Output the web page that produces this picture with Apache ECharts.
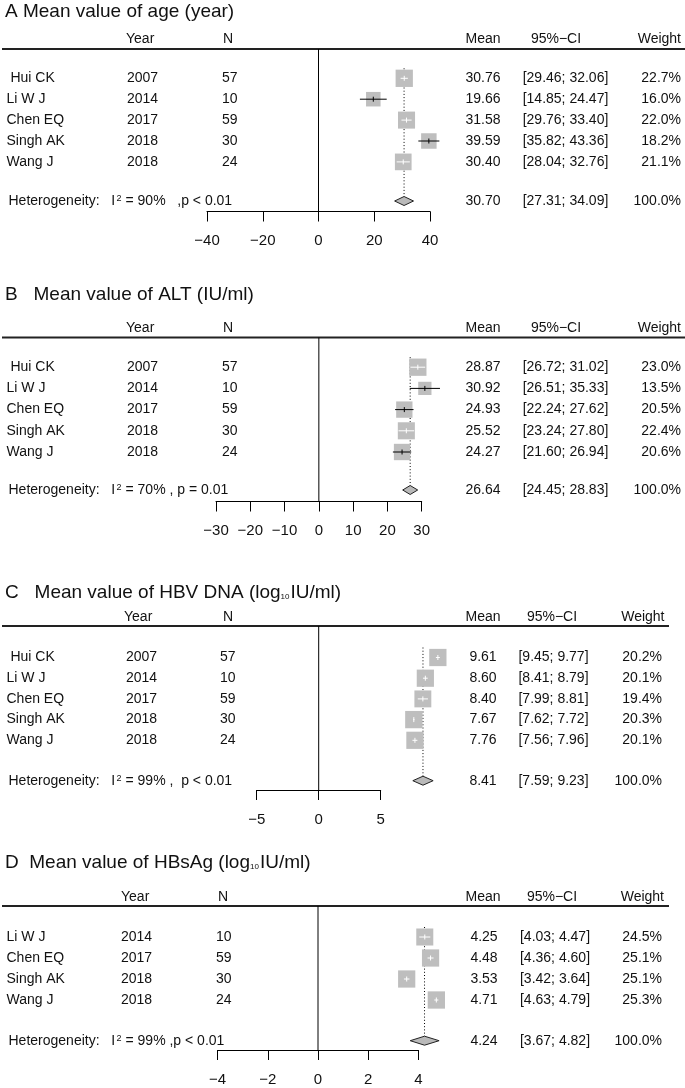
<!DOCTYPE html>
<html><head><meta charset="utf-8">
<script src="https://cdn.jsdelivr.net/npm/echarts@6/dist/echarts.min.js"></script>
<style>html,body{margin:0;padding:0;background:#fff}#c{width:685px;height:1088px}</style>
</head><body><div id="c"></div>
<script>
// ---------------- DATA ----------------
const headerLabels = ['Year', 'N', 'Mean', '95%\u2212CI', 'Weight'];

const titleA = 'A Mean value of age (year)';
const studiesA = [' Hui CK', 'Li W J', 'Chen EQ', 'Singh AK', 'Wang J'];
const yearsA = ['2007', '2014', '2017', '2018', '2018'];
const nA = [57, 10, 59, 30, 24];
const meanA = [30.76, 19.66, 31.58, 39.59, 30.40];
const lowerA = [29.46, 14.85, 29.76, 35.82, 28.04];
const upperA = [32.06, 24.47, 33.40, 43.36, 32.76];
const weightA = [22.7, 16.0, 22.0, 18.2, 21.1];
const pooledA = [30.70, 27.31, 34.09];
const hetA = 'Heterogeneity:   I{sup|2} = 90%   ,p < 0.01';
const ticksA = [-40, -20, 0, 20, 40];

const titleB = 'B   Mean value of ALT (IU/ml)';
const studiesB = [' Hui CK', 'Li W J', 'Chen EQ', 'Singh AK', 'Wang J'];
const yearsB = ['2007', '2014', '2017', '2018', '2018'];
const nB = [57, 10, 59, 30, 24];
const meanB = [28.87, 30.92, 24.93, 25.52, 24.27];
const lowerB = [26.72, 26.51, 22.24, 23.24, 21.60];
const upperB = [31.02, 35.33, 27.62, 27.80, 26.94];
const weightB = [23.0, 13.5, 20.5, 22.4, 20.6];
const pooledB = [26.64, 24.45, 28.83];
const hetB = 'Heterogeneity:   I{sup|2} = 70% , p = 0.01';
const ticksB = [-30, -20, -10, 0, 10, 20, 30];

const titleC = 'C   Mean value of HBV DNA (log{sub|10}IU/ml)';
const studiesC = [' Hui CK', 'Li W J', 'Chen EQ', 'Singh AK', 'Wang J'];
const yearsC = ['2007', '2014', '2017', '2018', '2018'];
const nC = [57, 10, 59, 30, 24];
const meanC = [9.61, 8.60, 8.40, 7.67, 7.76];
const lowerC = [9.45, 8.41, 7.99, 7.62, 7.56];
const upperC = [9.77, 8.79, 8.81, 7.72, 7.96];
const weightC = [20.2, 20.1, 19.4, 20.3, 20.1];
const pooledC = [8.41, 7.59, 9.23];
const hetC = 'Heterogeneity:   I{sup|2} = 99% ,  p < 0.01';
const ticksC = [-5, 0, 5];

const titleD = 'D  Mean value of HBsAg (log{sub|10}IU/ml)';
const studiesD = ['Li W J', 'Chen EQ', 'Singh AK', 'Wang J'];
const yearsD = ['2014', '2017', '2018', '2018'];
const nD = [10, 59, 30, 24];
const meanD = [4.25, 4.48, 3.53, 4.71];
const lowerD = [4.03, 4.36, 3.42, 4.63];
const upperD = [4.47, 4.60, 3.64, 4.79];
const weightD = [24.5, 25.1, 25.1, 25.3];
const pooledD = [4.24, 3.67, 4.82];
const hetD = 'Heterogeneity:   I{sup|2} = 99% ,p < 0.01';
const ticksD = [-4, -2, 0, 2, 4];

const totalWeight = '100.0%';

// ---------------- LAYOUT ----------------
const FAM = "'Liberation Sans', Arial, sans-serif";
const TFONT = '14px ' + FAM;
const SQ = 17.3;

const LAYOUT = [
  {titleY: 12, headY: 39, lineY: 49, lineX2: 685, y0: 78.3, dy: 20.9, hetY: 201, axisY: 211.5, axL: 207, axR: 430,
   c: {name: 6.5, year: 127, n: 222, mean: 483, ci: 565.5, w: 681}, h: {year: 126, n: 223, mean: 483, ci: 556, w: 681}},
  {titleY: 295, headY: 328, lineY: 337.5, lineX2: 685, y0: 367.2, dy: 21.2, hetY: 490, axisY: 501.5, axL: 216, axR: 421.7,
   c: {name: 6.5, year: 127, n: 222, mean: 483, ci: 565.5, w: 681}, h: {year: 126, n: 223, mean: 483, ci: 556, w: 681}},
  {titleY: 593, headY: 617, lineY: 626, lineX2: 669, y0: 657.5, dy: 20.7, hetY: 780.7, axisY: 790, axL: 256.7, axR: 380.7,
   c: {name: 6.5, year: 126, n: 220, mean: 483, ci: 553.5, w: 662}, h: {year: 124, n: 223, mean: 483, ci: 552, w: 664.5}},
  {titleY: 863, headY: 897, lineY: 906, lineX2: 669, y0: 937, dy: 21, hetY: 1040.7, axisY: 1050, axL: 217.5, axR: 418.5,
   c: {name: 6.5, year: 121, n: 216, mean: 484, ci: 555, w: 662}, h: {year: 121, n: 218, mean: 483, ci: 552, w: 664}}
];

const PANELS = [
  {title: titleA, studies: studiesA, years: yearsA, n: nA, mean: meanA, lower: lowerA, upper: upperA, weight: weightA, pooled: pooledA, het: hetA, ticks: ticksA},
  {title: titleB, studies: studiesB, years: yearsB, n: nB, mean: meanB, lower: lowerB, upper: upperB, weight: weightB, pooled: pooledB, het: hetB, ticks: ticksB},
  {title: titleC, studies: studiesC, years: yearsC, n: nC, mean: meanC, lower: lowerC, upper: upperC, weight: weightC, pooled: pooledC, het: hetC, ticks: ticksC},
  {title: titleD, studies: studiesD, years: yearsD, n: nD, mean: meanD, lower: lowerD, upper: upperD, weight: weightD, pooled: pooledD, het: hetD, ticks: ticksD}
];

const ciStr = (a, b) => '[' + a.toFixed(2) + '; ' + b.toFixed(2) + ']';

function studyItem(P) {
  const maxW = Math.max.apply(null, P.weight);
  return function (params, api) {
    const m = api.value(0), r = api.value(1), lo = api.value(2), hi = api.value(3), w = api.value(4);
    const c = api.coord([m, r]), a = api.coord([lo, r]), b = api.coord([hi, r]);
    const s = SQ * Math.sqrt(w / maxW);
    const col = (b[0] - a[0]) <= s ? '#ffffff' : '#000000';
    return {type: 'group', children: [
      {type: 'rect', shape: {x: c[0] - s / 2, y: c[1] - s / 2, width: s, height: s}, style: {fill: '#bebebe'}},
      {type: 'line', shape: {x1: a[0], y1: c[1], x2: b[0], y2: c[1]}, style: {stroke: col, lineWidth: 1}},
      {type: 'line', shape: {x1: c[0], y1: c[1] - 2.5, x2: c[0], y2: c[1] + 2.5}, style: {stroke: col, lineWidth: 1}}
    ]};
  };
}

function pooledItem(yMin, yMax) {
  return function (params, api) {
    const m = api.value(0), r = api.value(1), lo = api.value(2), hi = api.value(3);
    const c = api.coord([m, r]), a = api.coord([lo, r]), b = api.coord([hi, r]);
    const z0 = api.coord([0, yMin]), z1 = api.coord([0, yMax]);
    const top = api.coord([m, 0])[1] - 10;
    const h = 4.5;
    return {type: 'group', children: [
      {type: 'line', shape: {x1: z0[0], y1: z0[1], x2: z1[0], y2: z1[1]}, style: {stroke: '#000', lineWidth: 1}},
      {type: 'line', shape: {x1: c[0], y1: top, x2: c[0], y2: c[1] - h}, style: {stroke: '#000', lineWidth: 1, lineDash: [1, 2.2]}},
      {type: 'polygon', shape: {points: [[a[0], c[1]], [c[0], c[1] - h], [b[0], c[1]], [c[0], c[1] + h]]},
       style: {fill: '#b9b9b9', stroke: '#222', lineWidth: 1}}
    ]};
  };
}

function tableItem(P, L) {
  return function (params, api) {
    const i = params.dataIndex;
    const y = api.coord([0, api.value(1)])[1];
    const t = (x, s, align, extra) => ({type: 'text', x: x, y: y,
      style: Object.assign({text: s, fill: '#111', font: TFONT, align: align, verticalAlign: 'middle'}, extra || {})});
    if (i < P.studies.length) {
      return {type: 'group', children: [
        t(L.c.name, P.studies[i], 'left'),
        t(L.c.year, P.years[i], 'left'),
        t(L.c.n, String(P.n[i]), 'left'),
        t(L.c.mean, P.mean[i].toFixed(2), 'center'),
        t(L.c.ci, ciStr(P.lower[i], P.upper[i]), 'center'),
        t(L.c.w, P.weight[i].toFixed(1) + '%', 'right')
      ]};
    }
    return {type: 'group', children: [
      t(L.c.name + 2, P.het, 'left', {rich: {sup: {fontSize: 9, fontFamily: FAM, fill: '#111', verticalAlign: 'top', padding: [0, 0, 5, 1.5]}}}),
      t(L.c.mean, P.pooled[0].toFixed(2), 'center'),
      t(L.c.ci, ciStr(P.pooled[1], P.pooled[2]), 'center'),
      t(L.c.w, totalWeight, 'right')
    ]};
  };
}

const grids = [], xAxes = [], yAxes = [], series = [], graphics = [];
PANELS.forEach(function (P, k) {
  const L = LAYOUT[k];
  const yMin = (L.lineY - L.y0) / L.dy, yMax = (L.axisY - L.y0) / L.dy;
  const hetRow = (L.hetY - L.y0) / L.dy;
  grids.push({left: L.axL, width: L.axR - L.axL, top: L.lineY, height: L.axisY - L.lineY});
  xAxes.push({gridIndex: k, type: 'value', min: P.ticks[0], max: P.ticks[P.ticks.length - 1], interval: P.ticks[1] - P.ticks[0],
    axisLine: {show: true, onZero: false, lineStyle: {color: '#000', width: 1}},
    axisTick: {show: true, length: 10, lineStyle: {color: '#000', width: 1}},
    axisLabel: {margin: 22, fontSize: 15, fontFamily: FAM, color: '#111', formatter: v => String(v).replace('-', '\u2212')},
    splitLine: {show: false}});
  yAxes.push({gridIndex: k, type: 'value', inverse: true, min: yMin, max: yMax, show: false});
  series.push({type: 'custom', xAxisIndex: k, yAxisIndex: k, clip: false, silent: true, z: 1,
    renderItem: pooledItem(yMin, yMax), data: [[P.pooled[0], hetRow, P.pooled[1], P.pooled[2]]]});
  series.push({type: 'custom', xAxisIndex: k, yAxisIndex: k, clip: false, silent: true, z: 2,
    renderItem: studyItem(P), data: P.mean.map((m, i) => [m, i, P.lower[i], P.upper[i], P.weight[i]])});
  series.push({type: 'custom', xAxisIndex: k, yAxisIndex: k, clip: false, silent: true, z: 3,
    renderItem: tableItem(P, L), data: P.studies.map((s, i) => [0, i]).concat([[0, hetRow]])});
  graphics.push({type: 'text', left: 5, top: L.titleY - 10, style: {text: P.title, font: '19px ' + FAM, fill: '#111',
    rich: {sub: {fontSize: 8, fontFamily: FAM, fill: '#111', verticalAlign: 'bottom', padding: [0, 1, 1, 0]}}}});
  const hy = L.headY;
  graphics.push({type: 'text', x: L.h.year, y: hy, style: {text: headerLabels[0], font: TFONT, fill: '#111', align: 'left', verticalAlign: 'middle'}});
  graphics.push({type: 'text', x: L.h.n, y: hy, style: {text: headerLabels[1], font: TFONT, fill: '#111', align: 'left', verticalAlign: 'middle'}});
  graphics.push({type: 'text', x: L.h.mean, y: hy, style: {text: headerLabels[2], font: TFONT, fill: '#111', align: 'center', verticalAlign: 'middle'}});
  graphics.push({type: 'text', x: L.h.ci, y: hy, style: {text: headerLabels[3], font: TFONT, fill: '#111', align: 'center', verticalAlign: 'middle'}});
  graphics.push({type: 'text', x: L.h.w, y: hy, style: {text: headerLabels[4], font: TFONT, fill: '#111', align: 'right', verticalAlign: 'middle'}});
  graphics.push({type: 'line', shape: {x1: 2, y1: L.lineY, x2: L.lineX2, y2: L.lineY}, style: {stroke: '#222', lineWidth: 2}});
});

const chart = echarts.init(document.getElementById('c'), null, {renderer: 'canvas'});
chart.setOption({
  animation: false,
  backgroundColor: '#ffffff',
  grid: grids, xAxis: xAxes, yAxis: yAxes, series: series, graphic: graphics
});
</script></body></html>
